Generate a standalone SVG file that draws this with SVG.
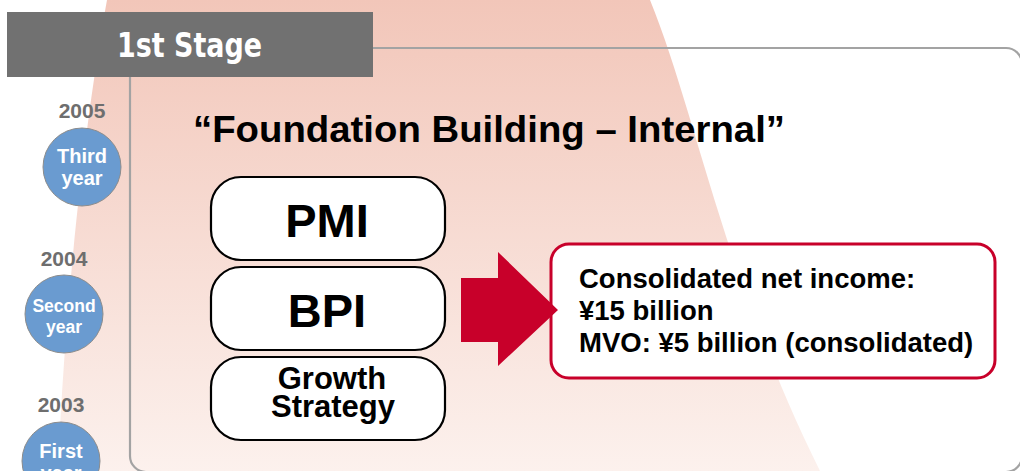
<svg xmlns="http://www.w3.org/2000/svg" width="1020" height="471" viewBox="0 0 1020 471">
  <defs>
    <linearGradient id="bandFill" x1="0" y1="0" x2="0" y2="1">
      <stop offset="0" stop-color="#f2c6b9"/>
      <stop offset="1" stop-color="#fcf1ed"/>
    </linearGradient>
    <style>
      .sans { font-family: "Liberation Sans", Arial, Helvetica, sans-serif; font-weight: bold; }
      .year { fill: #6e6e6e; font-size: 21px; text-anchor: middle; }
      .disc { fill: #6a9bd0; stroke: #8c8c8c; stroke-width: 1; }
      .disc-label { fill: #ffffff; text-anchor: middle; }
      .step { fill: #ffffff; stroke: #000000; stroke-width: 2.2; }
      .step-label { fill: #000000; text-anchor: middle; }
      .frame { fill: none; stroke: #a3a3a3; stroke-width: 2.2; }
      .result { fill: #ffffff; stroke: #c8002a; stroke-width: 3; }
      .result-label { fill: #000000; font-size: 27.5px; }
    </style>
  </defs>

  <rect x="0" y="0" width="1020" height="471" fill="#ffffff"/>

  <!-- soft pink backdrop band -->
  <path id="backdrop" d="M107,0 L650,0 C695,110 725,280 820,471 L58,471 C65,300 85,120 107,0 Z" fill="url(#bandFill)"/>

  <!-- stage frame -->
  <rect id="stage-frame" class="frame" x="130" y="48" width="892" height="424" rx="16" ry="16"/>

  <!-- stage header -->
  <g id="stage-header">
    <rect x="7" y="12" width="366" height="65" fill="#717171"/>
    <text x="117" y="57" font-family="'DejaVu Sans Condensed', 'DejaVu Sans', sans-serif" font-weight="bold" font-stretch="condensed" font-size="34" fill="#ffffff" textLength="145" lengthAdjust="spacingAndGlyphs">1st Stage</text>
  </g>

  <!-- timeline of years -->
  <g id="year-2005" class="sans">
    <text class="year" x="82" y="118">2005</text>
    <circle class="disc" cx="82" cy="167" r="39"/>
    <text class="disc-label" x="82" y="163" font-size="20">Third</text>
    <text class="disc-label" x="82" y="185" font-size="20">year</text>
  </g>
  <g id="year-2004" class="sans">
    <text class="year" x="64" y="266">2004</text>
    <circle class="disc" cx="64" cy="314" r="39"/>
    <text class="disc-label" x="64" y="312" font-size="17.5">Second</text>
    <text class="disc-label" x="64" y="333" font-size="17.5">year</text>
  </g>
  <g id="year-2003" class="sans">
    <text class="year" x="61" y="412">2003</text>
    <circle class="disc" cx="61" cy="461" r="39"/>
    <text class="disc-label" x="61" y="458" font-size="20">First</text>
    <text class="disc-label" x="61" y="480" font-size="20">year</text>
  </g>

  <!-- stage title -->
  <text id="stage-title" class="sans" x="193" y="142" font-size="36" fill="#000000" textLength="592" lengthAdjust="spacingAndGlyphs">“Foundation Building – Internal”</text>

  <!-- internal building blocks -->
  <g id="block-pmi" class="sans">
    <rect class="step" x="211" y="177" width="234" height="83" rx="30" ry="30"/>
    <text class="step-label" x="327" y="237" font-size="47">PMI</text>
  </g>
  <g id="block-bpi" class="sans">
    <rect class="step" x="211" y="267" width="234" height="83" rx="30" ry="30"/>
    <text class="step-label" x="327" y="327" font-size="47">BPI</text>
  </g>
  <g id="block-growth" class="sans">
    <rect class="step" x="211" y="357" width="234" height="83" rx="30" ry="30"/>
    <text class="step-label" x="332" y="389" font-size="31">Growth</text>
    <text class="step-label" x="333" y="417" font-size="31">Strategy</text>
  </g>

  <!-- outcome -->
  <g id="outcome" class="sans">
    <rect class="result" x="551" y="244" width="444" height="134" rx="18" ry="18"/>
    <text class="result-label" x="579" y="288">Consolidated net income:</text>
    <text class="result-label" x="579" y="320">¥15 billion</text>
    <text class="result-label" x="579" y="352">MVO: ¥5 billion (consolidated)</text>
  </g>

  <!-- connectors -->
  <g id="connectors">
    <path d="M461,278 H498 V252 L558,310 L498,366 V342 H461 Z" fill="#c8002a"/>
  </g>
</svg>
